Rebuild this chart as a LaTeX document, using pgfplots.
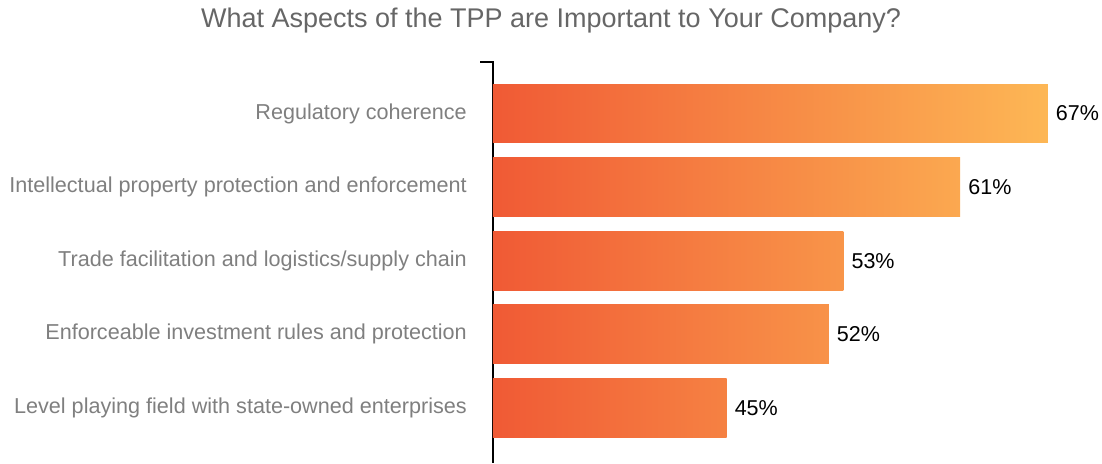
\documentclass[border=0pt]{standalone}
\usepackage{pgfplots}
\pgfplotsset{compat=1.18}
\usepackage{fontspec}
\setmainfont{Liberation Sans}
\definecolor{cA}{HTML}{F05A35}
\definecolor{cB}{HTML}{FDB755}
\definecolor{lab}{HTML}{7F7F7F}
\definecolor{ttl}{HTML}{666666}
\begin{document}
\begin{tikzpicture}
\begin{axis}[
  at={(0,0)}, anchor=south west,
  scale only axis, width=601.5pt, height=401pt,
  xmin=29, xmax=70.2, ymin=-0.7, ymax=4.75, y dir=reverse,
  xbar, bar shift=0pt, bar width=0.8,
  axis x line=none, axis y line*=left,
  y axis line style={-, line width=1.3pt, black},
  ytick={0,1,2,3,4},
  yticklabels={Regulatory coherence,Intellectual property protection and enforcement,Trade facilitation and logistics/supply chain,Enforceable investment rules and protection,Level playing field with state-owned enterprises},
  major tick length=0pt,
  yticklabel style={font=\fontsize{21.6}{26}\selectfont, text=lab, inner sep=0pt, xshift=-26pt},
  /pgf/number format/assume math mode=true,
  nodes near coords={\pgfmathprintnumber{\pgfplotspointmeta}\%},
  nodes near coords style={font=\fontsize{21.5}{26}\selectfont, black, anchor=west, inner sep=0pt, xshift=8pt},
  clip=false,
]
\addplot[draw=none, left color=cA, right color=cB] coordinates {(67,0)};
\addplot[draw=none, left color=cA, right color=cB!84.2!cA] coordinates {(61,1)};
\addplot[draw=none, left color=cA, right color=cB!63.2!cA] coordinates {(53,2)};
\addplot[draw=none, left color=cA, right color=cB!60.5!cA] coordinates {(52,3)};
\addplot[draw=none, left color=cA, right color=cB!42.1!cA] coordinates {(45,4)};
\end{axis}
\draw[line width=1.3pt, black] (-13pt,401pt) -- (0.65pt,401pt);
\node[font=\fontsize{27}{32}\selectfont, text=ttl] at (58pt,442pt) {What Aspects of the TPP are Important to Your Company?};
\pgfresetboundingbox
\useasboundingbox (-493pt,0pt) rectangle (609pt,463pt);
\end{tikzpicture}
\end{document}
